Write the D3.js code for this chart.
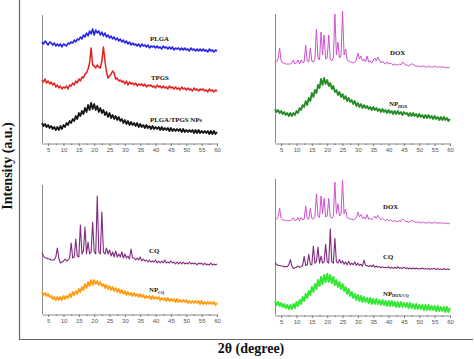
<!DOCTYPE html>
<html><head><meta charset="utf-8">
<script src="https://cdn.jsdelivr.net/npm/d3@7"></script>
<style>html,body{margin:0;padding:0;background:#fff;} svg{display:block;}</style>
</head><body>
<svg id="c" width="474" height="359"></svg>
<script>
// ---------- DATA (2θ grid: 3° to 60°, step 0.5°) ----------
const thetaStart = 3, thetaStep = 0.5;
const xTicks = [5,10,15,20,25,30,35,40,45,50,55,60];
const xMinor = [7.5,12.5,17.5,22.5,27.5,32.5,37.5,42.5,47.5,52.5,57.5];

const plga = [
101,99,102,100,98,101,100,98,100,97,
99,97,99,96,99,98,97,100,99,101,
100,103,101,104,103,106,104,108,106,110,
107,112,109,114,108,113,110,112,108,111,
107,110,106,108,105,107,104,106,103,105,
102,104,101,103,100,102,99,101,98,100,
98,99,97,99,96,99,97,98,96,98,
95,97,96,97,95,97,95,96,94,97,
95,96,94,96,94,96,93,95,94,95,
93,95,93,95,93,94,92,95,93,94,
92,94,92,94,92,94,92,93,91,94,
92,93,91,93,92];

const tpgs = [
63,61,64,60,62,59,61,58,60,56,
58,55,57,54,56,55,57,54,58,57,
60,58,62,60,64,62,66,65,69,70,
74,80,95,78,77,75,78,76,75,82,
96,82,71,65,67,69,72,70,64,65,
62,63,61,62,59,62,58,61,59,60,
58,60,57,59,58,59,57,59,56,58,
57,58,56,57,55,58,56,57,55,57,
55,56,54,57,55,56,54,56,54,55,
53,56,54,55,53,55,53,54,52,55,
53,54,52,54,53,54,52,53,51,54,
52,53,51,53,52];

const plgaTpgsNps = [
20,17,19,16,18,15,17,14,16,13,
16,13,17,14,18,16,20,18,22,20,
24,22,27,24,30,27,32,29,35,31,
38,33,40,34,39,33,37,31,35,30,
33,28,31,26,30,25,28,24,27,23,
26,22,24,20,23,19,22,18,21,18,
20,17,20,16,19,16,18,15,18,15,
17,14,17,14,16,14,16,13,16,13,
15,13,15,12,15,12,14,12,14,12,
14,11,14,11,13,11,13,11,13,10,
13,10,13,10,12,10,12,10,12,9,
12,9,12,9,11];

const dox = [
6,5,8,19,6,4,4,3,3,3,
3,4,7,3,4,7,3,7,4,5,
22,6,5,19,6,5,8,38,9,7,
35,12,32,8,9,32,8,6,9,53,
12,25,9,11,56,12,18,7,6,5,
5,4,5,7,14,8,11,6,8,5,
11,5,6,4,7,9,6,10,7,4,
6,4,3,5,3,4,3,2,3,2,
2,3,2,5,4,2,2,1,2,3,
3,1,1,1,1,0,1,1,0,0,
1,0,0,0,1,0,0,0,0,0,
0,-1,0,-1,0];

const npDox = [
34,31,33,30,32,29,31,28,30,27,
30,27,30,28,32,30,35,33,38,36,
42,38,45,42,50,46,53,50,58,55,
64,58,65,59,63,57,60,54,57,51,
53,48,51,46,49,44,47,42,45,41,
43,39,42,37,40,36,39,35,38,35,
37,34,36,33,36,33,35,32,34,31,
34,31,33,30,33,30,32,29,32,29,
32,29,31,28,31,29,30,27,30,27,
30,27,29,26,29,26,28,25,28,25,
28,25,27,24,27,24,26,23,26,23,
26,23,25,22,24];

const cq = [
11,8,6,6,5,5,4,4,4,7,
16,5,1,2,3,5,3,4,6,21,
6,7,25,8,7,39,10,13,37,10,
22,10,12,42,12,10,68,12,10,52,
12,10,16,10,14,8,12,7,13,7,
10,7,12,6,10,6,8,5,15,6,
6,4,6,4,7,3,5,3,4,2,
4,2,3,2,4,1,3,1,3,1,
4,1,2,1,3,1,2,0,2,0,
2,0,2,0,1,0,2,0,1,0,
1,-1,1,0,1,-1,1,-1,0,-1,
1,-1,0,-1,0];

const npCq = [
22,19,21,18,20,17,18,15,17,14,
17,14,17,14,18,15,18,16,20,17,
22,19,23,20,25,22,27,24,30,26,
32,28,34,29,34,30,33,29,32,28,
30,26,29,25,28,24,27,23,26,22,
25,21,24,20,23,19,22,19,21,18,
21,18,20,17,20,17,19,16,18,16,
18,15,18,15,17,15,17,14,16,14,
16,13,16,13,15,13,15,12,15,12,
14,12,14,12,14,11,13,11,13,11,
13,11,13,10,13,10,12,10,12,10,
12,10,12,9,11];

const npDoxCq = [
14,10,13,9,12,8,11,7,10,6,
10,6,11,7,13,9,15,11,18,14,
21,17,24,20,28,23,31,26,35,29,
38,31,40,33,41,33,40,32,38,30,
35,28,33,26,31,24,28,21,26,19,
23,17,21,15,20,14,19,13,18,13,
17,12,17,11,16,11,16,11,15,10,
15,10,14,9,14,9,14,9,13,8,
13,8,13,8,12,8,12,7,12,7,
11,6,11,6,10,6,10,5,10,5,
10,5,9,5,9,4,9,4,8,4,
8,3,8,3,7];

// ---------- LAYOUT ----------
const panels = [
  {x0:42,  x1:217, top:15,  axis:143},
  {x0:275, x1:450, top:14,  axis:143},
  {x0:42,  x1:217, top:185, axis:314},
  {x0:275, x1:450, top:179, axis:315}
];
const traces = [
  {p:0, data:plga,        off:0,  k:1,    color:"#2424e8", w:1.6, label:"PLGA", sub:"", lx:150, ly:40.5},
  {p:0, data:tpgs,        off:0,  k:1,    color:"#e32020", w:1.5, label:"TPGS", sub:"", lx:151, ly:79.5},
  {p:0, data:plgaTpgsNps, off:0,  k:1,    color:"#161616", w:1.8, label:"PLGA/TPGS NPs", sub:"", lx:150, ly:121.5},
  {p:1, data:dox,         off:76, k:1,    color:"#d050d0", w:1.0, label:"DOX", sub:"", lx:390, ly:54.5},
  {p:1, data:npDox,       off:0,  k:1,    color:"#238c23", w:1.8, label:"NP", sub:"DOX", lx:389, ly:106},
  {p:2, data:cq,          off:50, k:1,    color:"#802a80", w:1.1, label:"CQ", sub:"", lx:149, ly:253},
  {p:2, data:npCq,        off:0,  k:1,    color:"#ff9c12", w:1.8, label:"NP", sub:"CQ", lx:149, ly:292},
  {p:3, data:dox,         off:92, k:0.77, color:"#d050d0", w:1.0, label:"DOX", sub:"", lx:383, ly:208.5},
  {p:3, data:cq,          off:46, k:0.59, color:"#802a80", w:1.1, label:"CQ", sub:"", lx:383, ly:258.5},
  {p:3, data:npDoxCq,     off:0,  k:1,    color:"#33e833", w:2.0, label:"NP", sub:"DOX/CQ", lx:383, ly:295.5}
];

const svg = d3.select("#c");

// outer frame
svg.append("line").attr("x1",19.5).attr("x2",19.5).attr("y1",0).attr("y2",339.5)
  .attr("stroke","#666").attr("stroke-width",1.2);
svg.append("line").attr("x1",19).attr("x2",473).attr("y1",339.5).attr("y2",339.5)
  .attr("stroke","#666").attr("stroke-width",1.2);

// axis titles
svg.append("text").attr("transform","translate(12,166) rotate(-90)")
  .attr("text-anchor","middle").attr("font-family","Liberation Serif, serif")
  .attr("font-weight","bold").attr("font-size",14).attr("fill","#111")
  .text("Intensity (a.u.)");
svg.append("text").attr("x",251).attr("y",353)
  .attr("text-anchor","middle").attr("font-family","Liberation Serif, serif")
  .attr("font-weight","bold").attr("font-size",14).attr("fill","#111")
  .text("2θ (degree)");

const scales = panels.map(p => ({
  x: d3.scaleLinear().domain([3,60]).range([p.x0,p.x1]),
  y: d3.scaleLinear().domain([0,p.axis-p.top]).range([p.axis,p.top])
}));

panels.forEach((p,i) => {
  const g = svg.append("g");
  const sx = scales[i].x;
  g.append("line").attr("x1",p.x0+0.5).attr("x2",p.x0+0.5).attr("y1",p.top).attr("y2",p.axis)
    .attr("stroke","#8a8a8a").attr("stroke-width",1);
  const ax = g.append("g").attr("transform",`translate(0,${p.axis+0.5})`)
    .call(d3.axisBottom(sx).tickValues(xTicks).tickSize(2.5).tickPadding(2).tickSizeOuter(0));
  ax.select(".domain").attr("stroke","#8a8a8a");
  ax.selectAll(".tick line").attr("stroke","#777");
  ax.selectAll(".tick text").attr("font-family","Liberation Sans, Arial, sans-serif")
    .attr("font-size",6).attr("fill","#555");
  const am = g.append("g").attr("transform",`translate(0,${p.axis+0.5})`)
    .call(d3.axisBottom(sx).tickValues(xMinor).tickSize(1.5).tickFormat(""));
  am.select(".domain").remove();
  am.selectAll(".tick line").attr("stroke","#777");
});

traces.forEach(t => {
  const s = scales[t.p];
  const line = d3.line()
    .x((d,i) => s.x(thetaStart + i*thetaStep))
    .y(d => s.y(t.off + t.k*d));
  svg.append("path").attr("d", line(t.data)).attr("fill","none")
    .attr("stroke",t.color).attr("stroke-width",t.w).attr("stroke-linejoin","round");
  const tx = svg.append("text").attr("x",t.lx).attr("y",t.ly)
    .attr("font-family","Liberation Serif, serif").attr("font-weight","bold")
    .attr("font-size",6.8).attr("fill","#111");
  tx.append("tspan").text(t.label);
  if (t.sub) tx.append("tspan").attr("dy",1.8).attr("font-size",4.2).text(t.sub);
});
</script>
</body></html>
